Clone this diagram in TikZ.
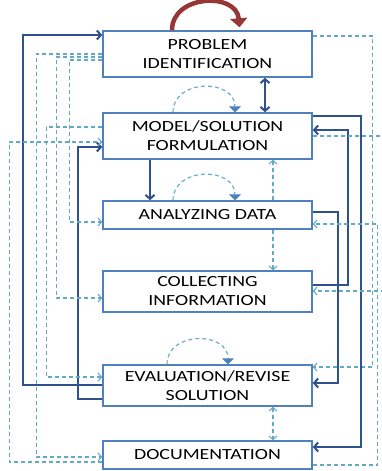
\documentclass[tikz,border=0pt]{standalone}
\usepackage{fontspec}
\setmainfont{Carlito}[FakeStretch=1.28]
\usetikzlibrary{arrows.meta}
\usetikzlibrary{positioning}
\definecolor{boxblue}{HTML}{4F81BD}
\definecolor{darkblue}{HTML}{2F528F}
\definecolor{lightblue}{HTML}{62AAC4}
\definecolor{darkred}{HTML}{953735}
\tikzstyle{etape}=[
        rectangle,
        draw=boxblue,
        line width=1.5pt,
        minimum width=209pt,
        inner sep=0pt,
        align=center,
        text=black,
        font=\fontsize{15.5}{19}\selectfont
]
\tikzstyle{suite}=[->,>={Straight Barb[length=4pt,width=9pt]},draw=darkblue,line width=2pt]
\tikzstyle{allerretour}=[<->,>={Straight Barb[length=4pt,width=9pt]},draw=darkblue,line width=2pt]
\tikzstyle{retour}=[->,>={Straight Barb[length=3.5pt,width=8pt]},draw=lightblue,line width=1.1pt,dash pattern=on 4pt off 3pt]
\tikzstyle{retourdbl}=[<->,>={Straight Barb[length=3.5pt,width=8pt]},draw=lightblue,line width=1.1pt,dash pattern=on 4pt off 3pt]
\tikzstyle{boucle}=[-{Triangle[length=6pt,width=12pt,color=boxblue]},draw=lightblue,line width=1.1pt,dash pattern=on 4pt off 3pt]
\tikzstyle{rouge}=[-{Triangle[length=9pt,width=17pt]},draw=darkred,line width=4.5pt]

\begin{document}
\begin{tikzpicture}[x=1pt,y=-1pt]
\useasboundingbox (0,0) rectangle (382,471);
\node[etape,minimum height=46pt] (prob) at (207.5,54) {PROBLEM\\IDENTIFICATION};
\node[etape,minimum height=46pt] (model) at (207.5,136) {MODEL/SOLUTION\\FORMULATION};
\node[etape,minimum height=28pt] (anal) at (207.5,215) {ANALYZING DATA};
\node[etape,minimum height=41pt] (coll) at (207.5,291.5) {COLLECTING\\INFORMATION};
\node[etape,minimum height=41pt] (eval) at (207.5,385.5) {EVALUATION/REVISE\\SOLUTION};
\node[etape,minimum height=28pt] (doc) at (207.5,455) {DOCUMENTATION};
%Placement des fleches
\draw[rouge] ([xshift=-35.5pt]prob.north) to[out=90,in=95,looseness=1.35] ([xshift=32pt,yshift=3pt]prob.north);
\draw[boucle] ([xshift=-34.5pt]model.north) to[out=90,in=90,looseness=1.4] ([xshift=27.5pt]model.north);
\draw[boucle] ([xshift=-34.5pt]anal.north) to[out=90,in=90,looseness=1.4] ([xshift=27.5pt]anal.north);
\draw[boucle] ([xshift=-40.5pt]eval.north) to[out=90,in=90,looseness=1.4] ([xshift=20.5pt]eval.north);
\draw[allerretour] ([xshift=57.5pt]prob.south) -- ([xshift=57.5pt]model.north);
\draw[suite] ([xshift=-57.5pt]model.south) -- ([xshift=-57.5pt]anal.north);
\draw[retour] ([xshift=65.5pt]anal.north) -- ([xshift=65.5pt]model.south);
\draw[retour] ([xshift=65.5pt]anal.south) -- ([xshift=65.5pt]coll.north);
\draw[retourdbl] ([xshift=65.5pt]eval.south) -- ([xshift=65.5pt]doc.north);
% gauche
\draw[suite] ([yshift=0.5pt]eval.west) -- ++(-79,0) |- ([yshift=19pt]prob.west);
\draw[suite] ([yshift=-13.5pt]eval.west) -- ++(-24,0) |- ([yshift=-11pt]model.west);
\draw[retour] (prob.west) -- ++(-66,0) |- ([yshift=-2pt]doc.west);
\draw[retour] ([yshift=-3pt]prob.west) -- ++(-46,0) |- ([yshift=-6.5pt]coll.west);
\draw[retour] ([yshift=-6pt]prob.west) -- ++(-33,0) |- ([yshift=-7pt]anal.west);
\draw[retour] ([yshift=9pt]model.west) -- ++(-56,0) |- ([yshift=8.5pt]eval.west);
\draw[retour] ([yshift=-7pt]doc.west) -- ++(-93,0) |- ([yshift=-6pt]model.west);
% droite
\draw[retour] ([yshift=18pt]prob.east) -- ++(60,0) |- ([yshift=18.5pt]eval.east);
\draw[suite] ([yshift=20pt]model.east) -- ++(48,0) |- ([yshift=8pt]doc.east);
\draw[suite] ([yshift=6.5pt]coll.east) -- ++(35,0) |- ([yshift=6pt]model.east);
\draw[suite] ([yshift=3pt]anal.east) -- ++(25,0) |- ([yshift=2.5pt]eval.east);
\draw[retour] ([yshift=-10pt]doc.east) -- ++(65,0) |- ([yshift=-9pt]anal.east);
\draw[retour] (model.east) -- ++(74,0) |- ([yshift=0.5pt]coll.east);
\end{tikzpicture}
\end{document}
